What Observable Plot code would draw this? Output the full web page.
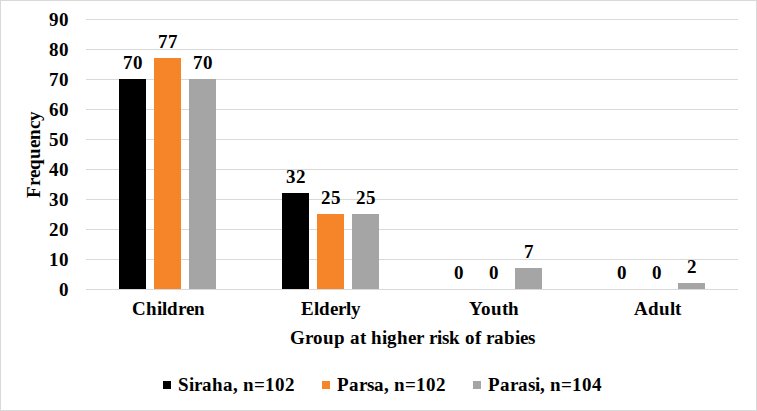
<!DOCTYPE html>
<html>
<head>
<meta charset="utf-8">
<script src="https://cdn.jsdelivr.net/npm/d3@7"></script>
<script src="https://cdn.jsdelivr.net/npm/@observablehq/plot@0.6"></script>
<style>
  @font-face {
    font-family: "ChartSerif";
    src: local("Liberation Serif Bold"), local("LiberationSerif-Bold"), local("Liberation Serif");
    font-weight: 700;
  }
  @font-face {
    font-family: "ChartSerif";
    src: local("Liberation Serif"), local("LiberationSerif");
    font-weight: 400;
  }
  body { margin: 0; background: #fff; }
  #chart { position: relative; width: 757px; height: 411px; overflow: hidden;
           font-family: ChartSerif, 'Liberation Serif', serif; font-weight: bold; }
  #frame { position: absolute; left: 0; top: 0; right: 0; bottom: 0;
           border: 1px solid #d9d9d9; pointer-events: none; }
  .legend { display: flex; justify-content: center; gap: 27px; margin-top: 14px;
            margin-left: 8px; font-size: 19px; line-height: 22px; color: #000; }
  .legend span.item { display: flex; align-items: center; }
  .legend span.sw { display: inline-block; width: 8px; height: 8px; margin-right: 7px; }
</style>
</head>
<body>
<div id="chart"><div id="frame"></div></div>
<script>
const groups = ["Children", "Elderly", "Youth", "Adult"];
const seriesNames = ["Siraha, n=102", "Parsa, n=102", "Parasi, n=104"];
const seriesColors = ["#000000", "#f6852a", "#a5a5a5"];
const siraha = [70, 32, 0, 0];
const parsa = [77, 25, 0, 0];
const parasi = [70, 25, 7, 2];
const yTicks = [0, 10, 20, 30, 40, 50, 60, 70, 80, 90];

let values = [siraha, parsa, parasi];
let rows = [];
groups.forEach((g, i) => {
    seriesNames.forEach((s, j) => {
        rows.push({group: g, series: s, value: values[j][i]});
    });
});

let chart = document.getElementById("chart");

let plot = Plot.plot({
    width: 757,
    height: 360,
    marginLeft: 84,
    marginRight: 18,
    marginTop: 19,
    marginBottom: 71,
    style: {
        fontFamily: "ChartSerif, 'Liberation Serif', serif",
        fontWeight: "bold",
        fontSize: "19px",
        color: "#000",
        background: "transparent",
        overflow: "visible"
    },
    fx: {
        domain: groups,
        padding: 0,
        axis: "bottom",
        tickSize: 0,
        tickPadding: 12,
        label: "Group at higher risk of rabies",
        labelAnchor: "center",
        labelOffset: 54
    },
    x: {
        domain: seriesNames,
        axis: null,
        paddingInner: 0.222,
        paddingOuter: 0.885
    },
    y: {
        domain: [0, 90],
        ticks: yTicks,
        tickSize: 0,
        tickPadding: 18,
        label: "Frequency",
        labelAnchor: "center",
        labelArrow: "none",
        labelOffset: 60
    },
    color: {
        domain: seriesNames,
        range: seriesColors
    },
    marks: [
        Plot.gridY(yTicks, {stroke: "#d9d9d9", strokeOpacity: 1}),
        Plot.barY(rows, {fx: "group", x: "series", y: "value", fill: "series"}),
        Plot.text(rows, {
            fx: "group", x: "series", y: "value",
            text: d => String(d.value),
            dy: -11,
            lineAnchor: "bottom",
            fill: "#000",
            fontSize: 19,
            fontWeight: "bold"
        })
    ]
});

chart.append(plot);

// legend below the svg
let legend = d3.select(chart).append("div").attr("class", "legend");
seriesNames.forEach((s, j) => {
    let item = legend.append("span").attr("class", "item");
    item.append("span").attr("class", "sw").style("background", seriesColors[j]);
    item.append("span").text(s);
});
</script>
</body>
</html>
